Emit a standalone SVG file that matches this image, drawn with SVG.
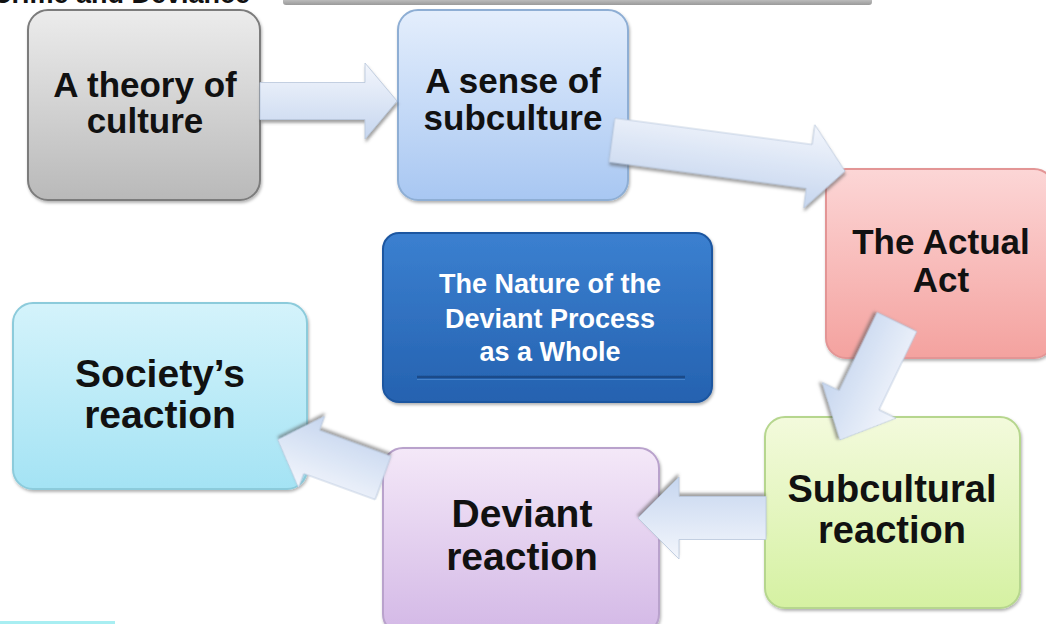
<svg xmlns="http://www.w3.org/2000/svg" width="1046" height="624" viewBox="0 0 1046 624">
<defs>
<linearGradient id="gGray" x1="0" y1="0" x2="0" y2="1"><stop offset="0" stop-color="#ececec"/><stop offset="1" stop-color="#b9b9b9"/></linearGradient>
<linearGradient id="gBlue" x1="0" y1="0" x2="0" y2="1"><stop offset="0" stop-color="#e4eefc"/><stop offset="1" stop-color="#a8c7f2"/></linearGradient>
<linearGradient id="gRed" x1="0" y1="0" x2="0" y2="1"><stop offset="0" stop-color="#fcd6d6"/><stop offset="1" stop-color="#f4a29f"/></linearGradient>
<linearGradient id="gGreen" x1="0" y1="0" x2="0" y2="1"><stop offset="0" stop-color="#f3fadc"/><stop offset="1" stop-color="#d5f1a2"/></linearGradient>
<linearGradient id="gPurple" x1="0" y1="0" x2="0" y2="1"><stop offset="0" stop-color="#f4e8f8"/><stop offset="1" stop-color="#d3b8e6"/></linearGradient>
<linearGradient id="gCyan" x1="0" y1="0" x2="0" y2="1"><stop offset="0" stop-color="#d4f3fb"/><stop offset="1" stop-color="#a4e3f4"/></linearGradient>
<linearGradient id="gCenter" x1="0" y1="0" x2="0" y2="1"><stop offset="0" stop-color="#3b80d0"/><stop offset="1" stop-color="#2562b0"/></linearGradient>
<linearGradient id="gArrow" x1="0" y1="0" x2="0" y2="1"><stop offset="0" stop-color="#f3f6fc"/><stop offset="1" stop-color="#c6d6ef"/></linearGradient>
<linearGradient id="gBar" x1="0" y1="0" x2="0" y2="1"><stop offset="0" stop-color="#d6d6d6"/><stop offset="1" stop-color="#9a9a9a"/></linearGradient>
<filter id="shadow" x="-10%" y="-10%" width="130%" height="130%"><feDropShadow dx="1" dy="2" stdDeviation="1.5" flood-color="#000" flood-opacity="0.3"/></filter>
<filter id="ashadow" x="-20%" y="-30%" width="140%" height="160%"><feDropShadow dx="1" dy="3" stdDeviation="1.5" flood-color="#555" flood-opacity="0.55"/></filter>
</defs>
<style>
.node{stroke-width:2;filter:url(#shadow)}
.lbl{font-family:"Liberation Sans",Arial,sans-serif;font-weight:bold;fill:#111;text-anchor:middle}
.wlbl{font-family:"Liberation Sans",Arial,sans-serif;font-weight:bold;fill:#fff;text-anchor:middle;font-size:27px}
.arrow{fill:url(#gArrow);stroke:#b8c6dc;stroke-width:0.8;filter:url(#ashadow)}
</style>
<rect width="1046" height="624" fill="#ffffff"/>
<rect x="283" y="-4" width="589" height="9" rx="3" fill="url(#gBar)"/>
<text x="-8" y="3" style="font-family:'Liberation Sans',Arial,sans-serif;font-weight:bold;font-size:27px;fill:#111">Crime and Deviance</text>
<rect x="0" y="621" width="115" height="4" fill="#a8eef2"/>

<g id="node-theory">
<rect class="node" x="28" y="10" width="232" height="190" rx="20" fill="url(#gGray)" stroke="#7c7c7c"/>
<text class="lbl" font-size="35" x="145" y="97">A theory of</text>
<text class="lbl" font-size="35" x="145" y="133">culture</text>
</g>
<g id="node-sense">
<rect class="node" x="398" y="10" width="230" height="190" rx="20" fill="url(#gBlue)" stroke="#8eaed4"/>
<text class="lbl" font-size="35" x="513" y="93">A sense of</text>
<text class="lbl" font-size="35" x="513" y="130">subculture</text>
</g>
<g id="node-act">
<rect class="node" x="826" y="169" width="228" height="189" rx="20" fill="url(#gRed)" stroke="#e39595"/>
<text class="lbl" font-size="35" x="941" y="254">The Actual</text>
<text class="lbl" font-size="35" x="941" y="292">Act</text>
</g>
<g id="node-subcultural">
<rect class="node" x="765" y="417" width="255" height="191" rx="20" fill="url(#gGreen)" stroke="#b6d68e"/>
<text class="lbl" font-size="38" x="892" y="502">Subcultural</text>
<text class="lbl" font-size="38" x="892" y="543">reaction</text>
</g>
<g id="node-deviant">
<rect class="node" x="383" y="448" width="276" height="186" rx="20" fill="url(#gPurple)" stroke="#b9a2cc"/>
<text class="lbl" font-size="39" x="522" y="527">Deviant</text>
<text class="lbl" font-size="39" x="522" y="570">reaction</text>
</g>
<g id="node-society">
<rect class="node" x="13" y="303" width="294" height="186" rx="20" fill="url(#gCyan)" stroke="#8ccbdb"/>
<text class="lbl" font-size="39" x="160" y="387">Society’s</text>
<text class="lbl" font-size="39" x="160" y="428">reaction</text>
</g>
<g id="node-center">
<rect x="383" y="233" width="329" height="169" rx="16" fill="url(#gCenter)" stroke="#1d56a0" stroke-width="2" filter="url(#shadow)"/>
<line x1="417" y1="377" x2="685" y2="377" stroke="#1b4a88" stroke-width="2.5"/>
<line x1="417" y1="379.5" x2="685" y2="379.5" stroke="#5b95d8" stroke-width="1" opacity="0.6"/>
<text class="wlbl" x="550" y="293">The Nature of the</text>
<text class="wlbl" x="550" y="328">Deviant Process</text>
<text class="wlbl" x="550" y="361">as a Whole</text>
</g>

<g id="connectors">
<path class="arrow" transform="translate(260,101) rotate(0)" d="M0,-18.5 L105,-18.5 L105,-38 L137,0 L105,38 L105,18.5 L0,18.5 Z"/>
<path class="arrow" transform="translate(612,140) rotate(7.6)" d="M0,-22 L199,-22 L199,-42 L235,0 L199,42 L199,22 L0,22 Z"/>
<path class="arrow" transform="translate(897,322) rotate(115.8)" d="M0,-22 L87,-22 L87,-41 L131,0 L87,41 L87,22 L0,22 Z"/>
<path class="arrow" transform="translate(766,518) rotate(180)" d="M0,-21.5 L87,-21.5 L87,-41 L128,0 L87,41 L87,21.5 L0,21.5 Z"/>
<path class="arrow" transform="translate(383,478) rotate(200)" d="M0,-23 L76,-23 L76,-38 L112,0 L76,38 L76,23 L0,23 Z"/>
</g>
</svg>
